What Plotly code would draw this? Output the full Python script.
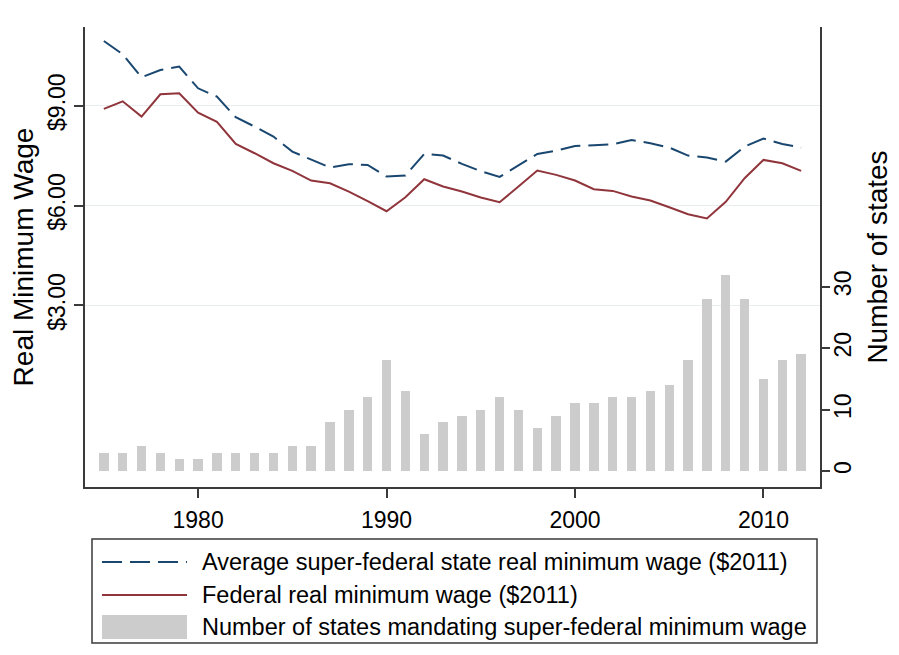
import plotly.graph_objects as go

years = list(range(1975, 2013))

state_avg_wage = [10.94, 10.54, 9.85, 10.07, 10.17, 9.52, 9.27, 8.65, 8.37, 8.07,
                  7.62, 7.37, 7.14, 7.24, 7.22, 6.87, 6.90, 7.55, 7.50, 7.25,
                  7.03, 6.86, 7.20, 7.55, 7.65, 7.79, 7.81, 7.84, 7.97, 7.87,
                  7.74, 7.50, 7.44, 7.32, 7.77, 8.01, 7.85, 7.74]

federal_wage = [8.90, 9.13, 8.67, 9.34, 9.37, 8.79, 8.51, 7.85, 7.57, 7.27,
                7.04, 6.75, 6.67, 6.42, 6.13, 5.83, 6.25, 6.79, 6.57, 6.42,
                6.24, 6.10, 6.57, 7.05, 6.92, 6.75, 6.49, 6.44, 6.27, 6.15,
                5.95, 5.74, 5.61, 6.11, 6.82, 7.37, 7.27, 7.04]

num_states = [3, 3, 4, 3, 2, 2, 3, 3, 3, 3,
              4, 4, 8, 10, 12, 18, 13, 6, 8, 9,
              10, 12, 10, 7, 9, 11, 11, 12, 12, 13,
              14, 18, 28, 32, 28, 15, 18, 19]

wage_ticks = [3, 6, 9]
wage_tick_labels = ["$3.00", "$6.00", "$9.00"]
state_ticks = [0, 10, 20, 30]
year_ticks = [1980, 1990, 2000, 2010]

legend_labels = [
    "Average super-federal state real minimum wage ($2011)",
    "Federal real minimum wage ($2011)",
    "Number of states mandating super-federal minimum wage",
]

BLUE = "#1a476f"
RED = "#90353b"
GRAY = "#cccccc"
AXIS = "#3a3a3a"
FONT = "Liberation Sans, Arial, sans-serif"

# the page body adds an 8px margin; compensate so the picture lines up
OFF = 8

fig = go.Figure()

fig.add_trace(go.Bar(x=years, y=num_states, yaxis="y2", marker=dict(color=GRAY, line=dict(width=0)),
                     width=0.5, showlegend=False, name=legend_labels[2]))
fig.add_trace(go.Scatter(x=years, y=state_avg_wage, mode="lines", yaxis="y",
                         line=dict(color=BLUE, width=2, dash="20px,8px"),
                         showlegend=False, name=legend_labels[0]))
fig.add_trace(go.Scatter(x=years, y=federal_wage, mode="lines", yaxis="y",
                         line=dict(color=RED, width=2),
                         showlegend=False, name=legend_labels[1]))

# plot area in target-screen pixels: x 85..820, y 27..487
L, R, T, B = 85 - OFF, 820 - OFF, 27 - OFF, 487 - OFF
W, H = R - L, B - T


def px(x):
    return (x - OFF - L) / W


def py(y):
    return (B - (y - OFF)) / H


shapes = [
    dict(type="rect", xref="paper", yref="paper", x0=px(92), x1=px(817), y0=py(643), y1=py(539),
         line=dict(color=AXIS, width=1.5), fillcolor="white"),
    dict(type="line", xref="paper", yref="paper", x0=px(102), x1=px(187), y0=py(562), y1=py(562),
         line=dict(color=BLUE, width=2, dash="20px,8px")),
    dict(type="line", xref="paper", yref="paper", x0=px(102), x1=px(187), y0=py(595), y1=py(595),
         line=dict(color=RED, width=2)),
    dict(type="rect", xref="paper", yref="paper", x0=px(102), x1=px(187), y0=py(639), y1=py(615),
         line=dict(width=0), fillcolor=GRAY),
]

annotations = []
for label, yy in zip(legend_labels, [562, 595, 627]):
    annotations.append(dict(xref="paper", yref="paper", x=px(200), y=py(yy), text=label,
                            showarrow=False, xanchor="left", yanchor="middle",
                            font=dict(size=23.5, color="black", family=FONT)))

fig.update_layout(
    width=899, height=655,
    margin=dict(l=L, r=899 - R, t=T, b=655 - B),
    paper_bgcolor="white", plot_bgcolor="white",
    font=dict(family=FONT, size=23, color="black"),
    bargap=0,
    xaxis=dict(range=[1974, 2013], tickvals=year_ticks, ticks="outside", ticklen=9,
               tickcolor=AXIS, tickwidth=1.5, showline=True, linecolor=AXIS, linewidth=1.5,
               showgrid=False, zeroline=False, tickfont=dict(size=23), automargin=False,
               ticklabelstandoff=3),
    yaxis=dict(range=[-2.45, 11.36], tickvals=wage_ticks, ticktext=wage_tick_labels,
               tickangle=-90, ticks="outside", ticklen=9, tickcolor=AXIS, tickwidth=1.5,
               showline=True, linecolor=AXIS, linewidth=1.5, showgrid=True,
               gridcolor="#e8eef0", gridwidth=1, zeroline=False, automargin=False,
               ticklabelstandoff=0,
               title=dict(text="Real Minimum Wage", standoff=4), tickfont=dict(size=23)),
    yaxis2=dict(range=[-2.6, 72.3], tickvals=state_ticks, tickangle=-90, overlaying="y",
                side="right", ticks="outside", ticklen=8, tickcolor=AXIS, tickwidth=1.5,
                showline=True, linecolor=AXIS, linewidth=1.5, showgrid=False, zeroline=False,
                automargin=False, ticklabelstandoff=-6,
                title=dict(text="Number of states", standoff=12), tickfont=dict(size=23)),
    shapes=shapes,
    annotations=annotations,
)

fig.write_html("out.html")
